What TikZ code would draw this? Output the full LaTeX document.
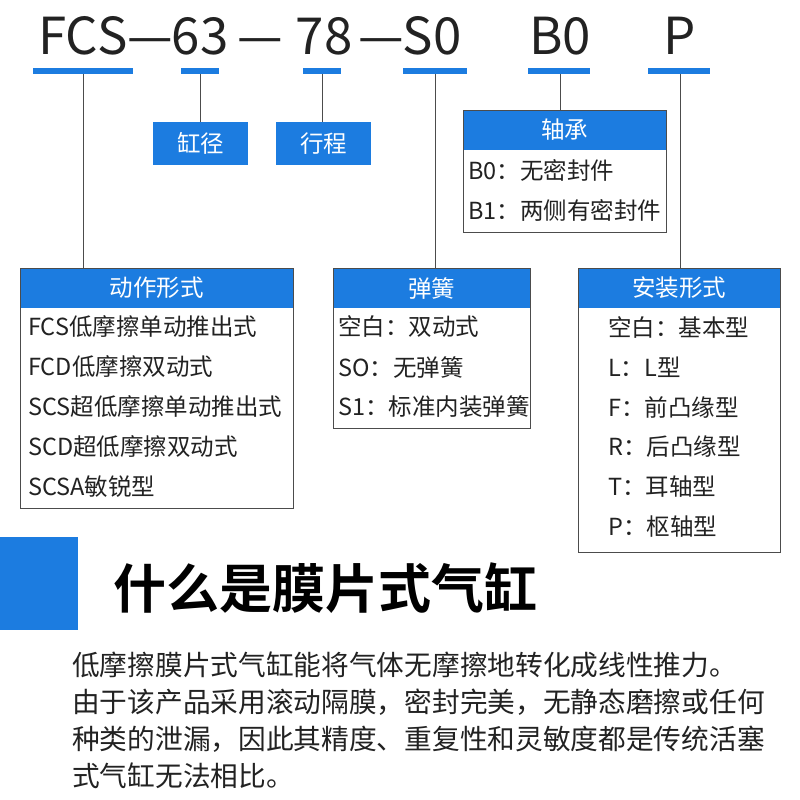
\documentclass[tikz,border=0pt]{standalone}
\usepackage{fontspec}
\setmainfont{Noto Sans CJK SC}
\newfontfamily\boldcjk{Noto Sans CJK SC Bold}
\definecolor{bl}{HTML}{1C7CE0}
\definecolor{tx}{HTML}{222222}
\begin{document}
\begin{tikzpicture}[x=1pt,y=-1pt,
  bar/.style={fill=bl,draw=none},
  hdr/.style={fill=bl,text=white,font=\fontsize{23.5}{23.5}\selectfont},
  frame/.style={draw=black!70,line width=0.6pt},
  conn/.style={draw=black!70,line width=0.6pt},
  row/.style={anchor=west,text=tx,font=\fontsize{23.5}{23.5}\selectfont,inner sep=0pt},
  big/.style={text=tx,font=\fontsize{51}{51}\selectfont,inner sep=0pt,anchor=base}]
\useasboundingbox (0,0) rectangle (800,800);
\fill[white] (0,0) rectangle (800,800);
% code
\node[big,anchor=base west] (c1) at (38,55) {FCS};
\node[big] (d1) at (150,55) {—};
\node[big] (c2) at (200,55) {63};
\node[big] (d2) at (260,55) {—};
\node[big] (c3) at (324,55) {78};
\node[big] (d3) at (381,55) {—};
\node[big] (c4) at (432,55) {S0};
\node[big] (c5) at (560,55) {B0};
\node[big] (c6) at (680,55) {P};
% bars
\fill[bar] (33,68) rectangle (133,74); \coordinate (b1) at (83,74);
\fill[bar] (181,68) rectangle (219,74); \coordinate (b2) at (200,74);
\fill[bar] (303,68) rectangle (341,74); \coordinate (b3) at (322,74);
\fill[bar] (403,68) rectangle (467,74); \coordinate (b4) at (435,74);
\fill[bar] (528,68) rectangle (590,74); \coordinate (b5) at (560,74);
\fill[bar] (648,68) rectangle (710,74); \coordinate (b6) at (680,74);
% small boxes
\node[hdr,minimum width=95pt,minimum height=43pt,inner sep=0pt] (k1) at (200.5,143.5) {缸径};
\node[hdr,minimum width=95pt,minimum height=43pt,inner sep=0pt] (k2) at (323.5,143.5) {行程};
\draw[conn] (b2) -- (k1.north -| b2);
\draw[conn] (b3) -- (k2.north -| b3);
% bearing box
\node[hdr,minimum width=203pt,minimum height=40pt,inner sep=0pt] (h5) at (564.5,130) {轴承};
\draw[frame] (463,110) rectangle (666,232);
\draw[conn] (b5) -- (h5.north -| b5);
\node[row] at (468,170) {B0：无密封件};
\node[row] at (468,210) {B1：两侧有密封件};
% action box
\node[hdr,minimum width=273pt,minimum height=40pt,inner sep=0pt] (h1) at (156.5,288) {动作形式};
\draw[frame] (20,268) rectangle (293,508);
\draw[conn] (b1) -- (h1.north -| b1);
\node[row] at (28,327) {FCS低摩擦单动推出式};
\node[row] at (28,367) {FCD低摩擦双动式};
\node[row] at (28,407) {SCS超低摩擦单动推出式};
\node[row] at (28,447) {SCD超低摩擦双动式};
\node[row] at (28,487) {SCSA敏锐型};
% spring
\node[hdr,minimum width=197pt,minimum height=40pt,inner sep=0pt] (h4) at (431.5,288) {弹簧};
\draw[frame] (333,268) rectangle (530,428);
\draw[conn] (b4) -- (h4.north -| b4);
\node[row] at (338,327) {空白：双动式};
\node[row] at (338,367) {SO：无弹簧};
\node[row] at (338,407) {S1：标准内装弹簧};
% mount
\node[hdr,minimum width=202pt,minimum height=40pt,inner sep=0pt] (h6) at (679,288) {安装形式};
\draw[frame] (578,268) rectangle (780,552);
\draw[conn] (b6) -- (h6.north -| b6);
\node[row] at (608,327) {空白：基本型};
\node[row] at (608,367) {L：L型};
\node[row] at (608,407) {F：前凸缘型};
\node[row] at (608,447) {R：后凸缘型};
\node[row] at (608,487) {T：耳轴型};
\node[row] at (608,527) {P：枢轴型};
% title
\fill[bl] (0,537) rectangle (78,630);
\node[anchor=west,inner sep=0pt,text=black,font=\boldcjk\fontsize{53}{53}\selectfont] (title) at (113,588) {什么是膜片式气缸};
% paragraph
\node[anchor=north west,inner sep=0pt,text=tx,align=left,font=\fontsize{27.7}{37}\selectfont] (para) at (72,652)
{低摩擦膜片式气缸能将气体无摩擦地转化成线性推力。\\由于该产品采用滚动隔膜，密封完美，无静态磨擦或任何\\种类的泄漏，因此其精度、重复性和灵敏度都是传统活塞\\式气缸无法相比。};
\end{tikzpicture}
\end{document}
